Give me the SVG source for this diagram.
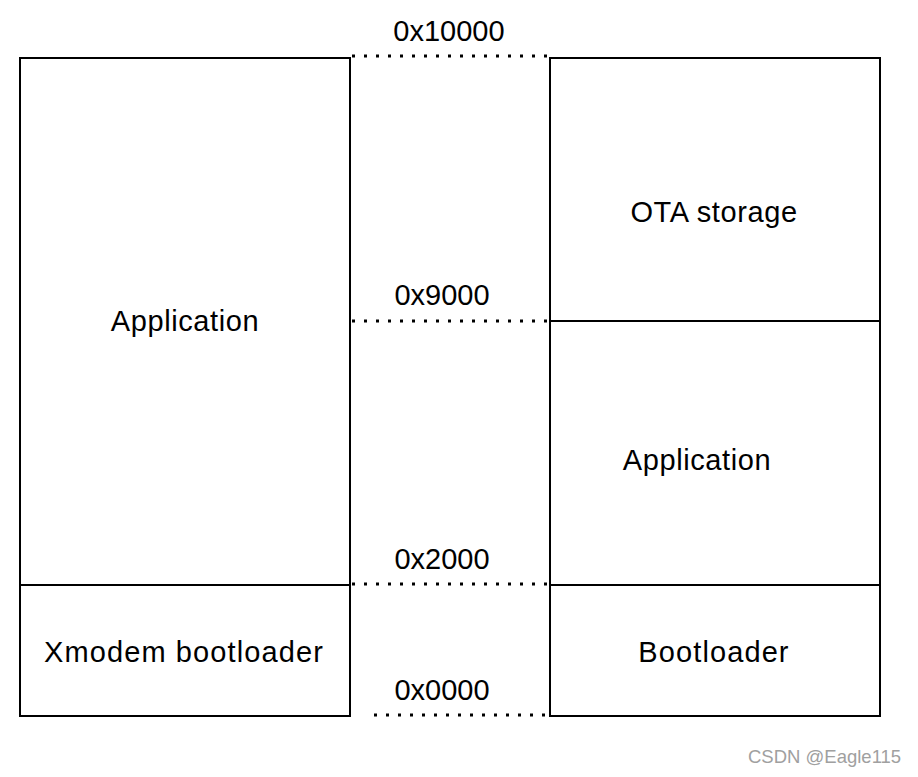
<svg xmlns="http://www.w3.org/2000/svg" width="918" height="777" viewBox="0 0 918 777">
<style>
.box{fill:#fff;stroke:#000;stroke-width:2}
.t{font-family:"Liberation Sans",Arial,sans-serif;font-size:29px;fill:#000;text-anchor:middle}
.n{letter-spacing:1.1px}
.m{letter-spacing:0.6px}
.dot{stroke:#000;stroke-width:3;stroke-dasharray:3 9;fill:none}
.wm{font-family:"Liberation Sans",Arial,sans-serif;font-size:18.5px;fill:#a0a0a0}
</style>
<rect width="918" height="777" fill="#fff"/>
<g id="left-application"><rect class="box" x="20" y="58" width="330" height="527"/><text class="t m" x="185" y="331">Application</text></g>
<g id="left-xmodem"><rect class="box" x="20" y="585" width="330" height="131"/><text class="t n" x="184" y="662">Xmodem bootloader</text></g>
<g id="right-ota"><rect class="box" x="550" y="58" width="330" height="263"/><text class="t m" x="714" y="222">OTA storage</text></g>
<g id="right-application"><rect class="box" x="550" y="321" width="330" height="264"/><text class="t m" x="697" y="470">Application</text></g>
<g id="right-bootloader"><rect class="box" x="550" y="585" width="330" height="131"/><text class="t n" x="714" y="662">Bootloader</text></g>
<g id="connectors">
<line class="dot" x1="352" y1="56" x2="548" y2="56"/>
<line class="dot" x1="352" y1="321" x2="548" y2="321"/>
<line class="dot" x1="352" y1="584" x2="548" y2="584"/>
<line class="dot" x1="374" y1="715" x2="548" y2="715"/>
</g>
<g id="labels">
<text class="t" x="449" y="41">0x10000</text>
<text class="t" x="442" y="305">0x9000</text>
<text class="t" x="442" y="569">0x2000</text>
<text class="t" x="442" y="700">0x0000</text>
</g>
<text class="wm" x="748" y="763">CSDN @Eagle115</text>
</svg>
